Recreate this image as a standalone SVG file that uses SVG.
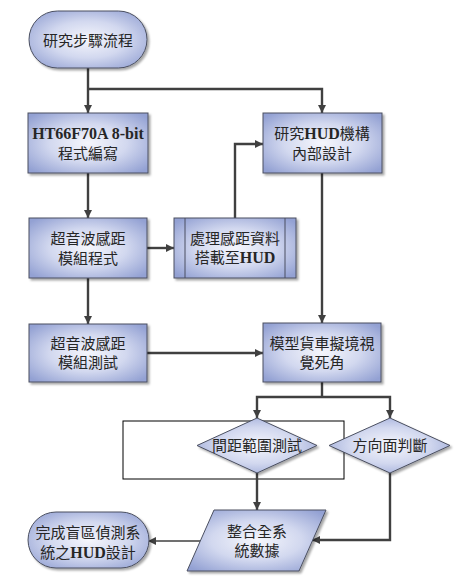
<svg xmlns="http://www.w3.org/2000/svg" width="465" height="588" viewBox="0 0 465 588">
<defs>
<radialGradient id="g" cx="50%" cy="50%" r="65%">
<stop offset="0" stop-color="#f5f6fc"/>
<stop offset="0.5" stop-color="#d2d8ef"/>
<stop offset="1" stop-color="#93a1d3"/>
</radialGradient>
<filter id="sh" x="-10%" y="-10%" width="125%" height="130%">
<feDropShadow dx="2" dy="2" stdDeviation="1.2" flood-color="#000" flood-opacity="0.35"/>
</filter>
<marker id="ah" viewBox="0 0 10 10" refX="10" refY="5" markerWidth="8" markerHeight="8" markerUnits="userSpaceOnUse" orient="auto">
<path d="M0,0 L10,5 L0,10 z" fill="#404040"/>
</marker>
</defs>
<style>
.s{fill:url(#g);stroke:#4a4f60;stroke-width:1;filter:url(#sh)}
.t{font-family:"Liberation Serif","Noto Sans CJK TC",serif;font-size:15px;fill:#262626;text-anchor:middle}
.b{font-weight:bold;font-size:16px}
.c{fill:none;stroke:#404040;stroke-width:2.4}
.ca{fill:none;stroke:#404040;stroke-width:2.4;marker-end:url(#ah)}
</style>
<rect width="465" height="588" fill="#ffffff"/>

<rect x="123" y="421" width="221" height="58" fill="none" stroke="#000" stroke-width="1"/>

<g id="connectors">
<line class="c" x1="88" y1="68" x2="88" y2="89"/>
<polyline class="ca" points="88,89 322,89 322,113"/>
<line class="ca" x1="88" y1="89" x2="88" y2="113"/>
<line class="ca" x1="88" y1="173" x2="88" y2="218"/>
<line class="ca" x1="147" y1="248" x2="174" y2="248"/>
<polyline class="ca" points="235,218 235,144 263,144"/>
<line class="ca" x1="322" y1="173" x2="322" y2="323"/>
<line class="ca" x1="88" y1="278" x2="88" y2="324"/>
<line class="ca" x1="147" y1="353" x2="263" y2="353"/>
<line class="c" x1="322" y1="382" x2="322" y2="397"/>
<polyline class="ca" points="322,397 257,397 257,418"/>
<polyline class="ca" points="322,397 390,397 390,418"/>
<line class="ca" x1="257" y1="473" x2="257" y2="510"/>
<polyline class="ca" points="390,473 390,540 312,540"/>
<line x1="200" y1="541" x2="148" y2="541" stroke="#404040" stroke-width="1.6" marker-end="url(#ah)"/>
</g>

<g id="start">
<rect class="s" x="29" y="11" width="118" height="57" rx="28.5"/>
<text class="t" x="88" y="46">研究步驟流程</text>
</g>

<g id="ht66">
<rect class="s" x="28" y="113" width="120" height="60"/>
<text class="t b" x="88" y="139">HT66F70A 8-bit</text>
<text class="t" x="88" y="159">程式編寫</text>
</g>

<g id="hud">
<rect class="s" x="263" y="113" width="119" height="60"/>
<text class="t" x="322" y="139">研究<tspan class="b">HUD</tspan>機構</text>
<text class="t" x="322" y="159">內部設計</text>
</g>

<g id="ultra-prog">
<rect class="s" x="29" y="218" width="118" height="60"/>
<text class="t" x="88" y="244">超音波感距</text>
<text class="t" x="88" y="264">模組程式</text>
</g>

<g id="process">
<rect class="s" x="174" y="218" width="122" height="60"/>
<line x1="185" y1="218" x2="185" y2="278" stroke="#4a4f60" stroke-width="1"/>
<line x1="285" y1="218" x2="285" y2="278" stroke="#4a4f60" stroke-width="1"/>
<text class="t" x="235" y="244">處理感距資料</text>
<text class="t" x="235" y="263">搭載至<tspan class="b">HUD</tspan></text>
</g>

<g id="ultra-test">
<rect class="s" x="29" y="324" width="118" height="58"/>
<text class="t" x="88" y="349">超音波感距</text>
<text class="t" x="88" y="368">模組測試</text>
</g>

<g id="truck">
<rect class="s" x="263" y="323" width="118" height="59"/>
<text class="t" x="322" y="349">模型貨車擬境視</text>
<text class="t" x="322" y="368">覺死角</text>
</g>

<g id="range">
<polygon class="s" points="257,418 317,445.5 257,473 197,445.5"/>
<text class="t" x="257" y="451">間距範圍測試</text>
</g>

<g id="direction">
<polygon class="s" points="390,418 450,445.5 390,473 329,445.5"/>
<text class="t" x="390" y="451">方向面判斷</text>
</g>

<g id="integrate">
<polygon class="s" points="214,510 326,510 299,571 187,571"/>
<text class="t" x="257" y="537">整合全系</text>
<text class="t" x="257" y="556">統數據</text>
</g>

<g id="end">
<rect class="s" x="28" y="512" width="121" height="56" rx="28"/>
<text class="t" x="88" y="538">完成盲區偵測系</text>
<text class="t" x="88" y="558">統之<tspan class="b">HUD</tspan>設計</text>
</g>
</svg>
